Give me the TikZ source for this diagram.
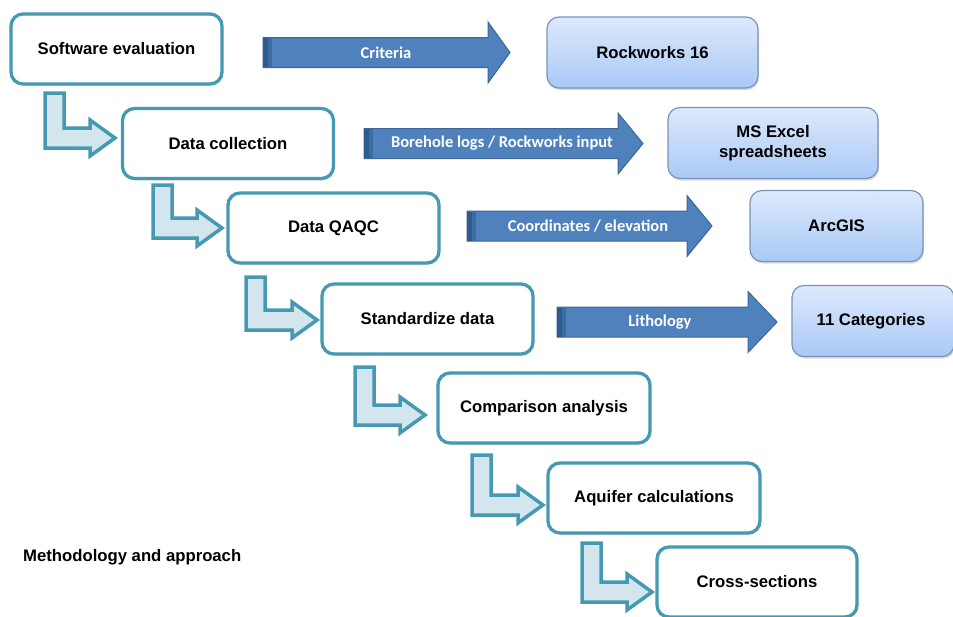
\documentclass[tikz,border=0pt]{standalone}
\usepackage{fontspec}
\setmainfont{Liberation Sans}
\newfontfamily\calib{Carlito}
\usetikzlibrary{shadows}
\definecolor{teal1}{HTML}{4599B2}
\definecolor{lfill}{HTML}{D3E6EE}
\definecolor{abody}{HTML}{4F81BD}
\definecolor{aedge}{HTML}{3B6696}
\definecolor{adark}{HTML}{2E5A8E}
\definecolor{btop}{HTML}{DDE9FB}
\definecolor{bbot}{HTML}{A9C9F7}
\definecolor{bedge}{HTML}{7C93B5}
\newcommand\larr[4]{%
  \draw[larrow] (#1,#2) -- ({#1+19},#2) -- ({#1+19},{#3-20}) -- ({#4-25},{#3-20})
    -- ({#4-25},{#3-28}) -- (#4,{#3-10}) -- ({#4-25},{#3+8}) -- ({#4-25},#3)
    -- (#1,#3) -- cycle;}
\newcommand\bigarr[6]{%
  \draw[barrow] (#1,{#2-15}) -- (#3,{#2-15}) -- (#3,{#2-30.5}) -- (#4,#2)
    -- (#3,{#2+30.5}) -- (#3,{#2+15}) -- (#1,{#2+15}) -- cycle;
  \fill[adark] (#1,{#2-14.5}) rectangle ({#1+5},{#2+14.5});
  \fill[adark!55!abody] ({#1+5},{#2-14.5}) rectangle ({#1+9},{#2+14.5});
  \node[alabel] (#5) at (#6,#2) {\strut};}
\begin{document}
\begin{tikzpicture}[x=1pt,y=-1pt,
  stepbox/.style={draw=teal1, line width=3.3pt, fill=white, rounded corners=12pt,
    minimum width=211pt, minimum height=70pt, inner sep=0pt,
    font=\fontsize{16.7}{20}\selectfont\bfseries,
    drop shadow={opacity=0.2, shadow xshift=1pt, shadow yshift=-2pt}},
  toolbox/.style={draw=bedge, line width=1.2pt, top color=btop, bottom color=bbot,
    rounded corners=12pt, minimum height=71pt, inner sep=0pt, align=center,
    font=\fontsize{16.7}{20}\selectfont\bfseries,
    drop shadow={opacity=0.3, shadow xshift=1pt, shadow yshift=-2pt}},
  larrow/.style={draw=teal1, line width=3.5pt, fill=lfill, line join=miter},
  barrow/.style={draw=aedge, line width=1pt, fill=abody, line join=miter},
  alabel/.style={text=white, inner sep=0pt, font=\calib\fontsize{16.5}{20}\selectfont\bfseries}
]
\useasboundingbox (0,0) rectangle (953,616);
\clip (0,0) rectangle (953,616);

% step boxes
\node[stepbox] (s1) at (116.5,49) {Software evaluation};
\node[stepbox] (s2) at (228,143.5) {Data collection};
\node[stepbox] (s3) at (333.5,228) {Data QAQC};
\node[stepbox] (s4) at (427.5,319) {Standardize data};
\node[stepbox, minimum width=212pt] (s5) at (544,408) {Comparison analysis};
\node[stepbox, minimum width=212pt] (s6) at (654,498) {Aquifer calculations};
\node[stepbox, minimum width=200pt] (s7) at (757,582) {Cross-sections};

% L-shaped connectors
\larr{45}{93}{148}{115}
\larr{153}{185}{238}{222}
\larr{246}{277}{330}{317}
\larr{355}{367}{425}{425}
\larr{472}{455}{515}{543}
\larr{582}{543}{602}{652}

% tool boxes
\node[toolbox, minimum width=211pt] (t1) at (652.5,52.5) {Rockworks 16};
\node[toolbox, minimum width=210pt] (t2) at (773,143) {MS Excel\\spreadsheets};
\node[toolbox, minimum width=173pt] (t3) at (836.5,226) {ArcGIS};
\node[toolbox, minimum width=162pt] (t4) at (873,321) {};
\node[font=\fontsize{16.7}{20}\selectfont\bfseries] (t4l) at (871,321) {11 Categories};

% block arrows
\bigarr{263}{52.5}{488}{510}{a1}{386}
\node[alabel] at (a1) {Criteria};
\bigarr{364}{143.5}{618}{643}{a2}{502}
\node[alabel] at (a2) {Borehole logs / Rockworks input};
\bigarr{467}{226}{687}{712}{a3}{588}
\node[alabel] at (a3) {Coordinates / elevation};
\bigarr{557}{322}{748}{777}{a4}{660}
\node[alabel] at (a4) {Lithology};

\node[anchor=west, inner sep=0pt, font=\fontsize{16.7}{20}\selectfont\bfseries] (cap) at (23,557) {Methodology and approach};
\end{tikzpicture}
\end{document}
